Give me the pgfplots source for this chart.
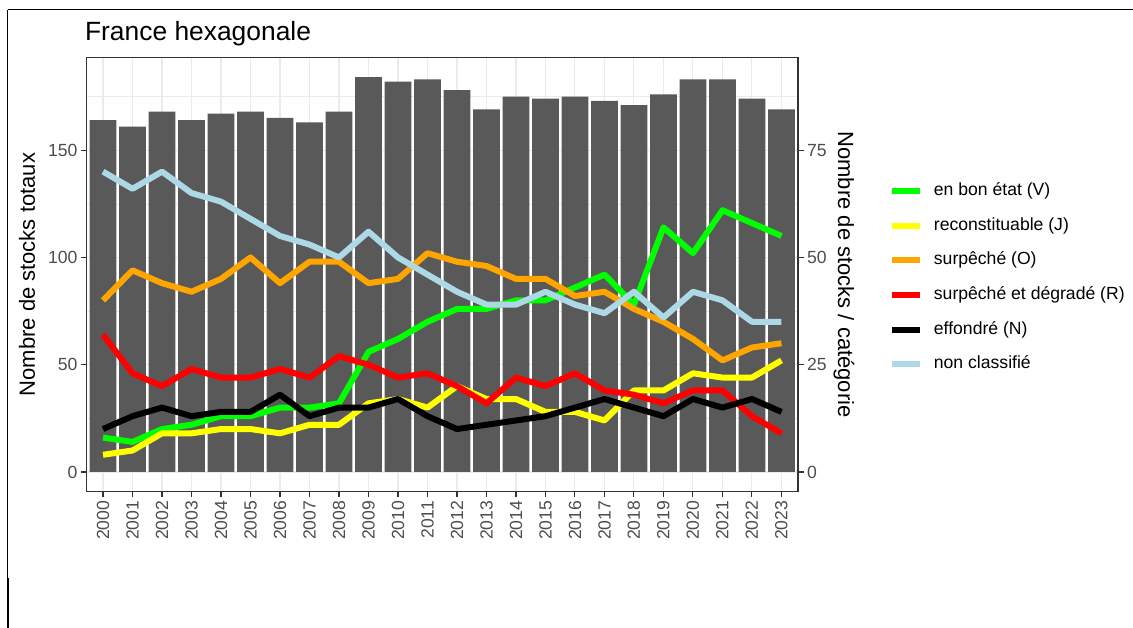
\documentclass[border=0pt]{standalone}
\usepackage{fontspec}
\setmainfont{Liberation Sans}
\usepackage{pgfplots}
\pgfplotsset{compat=1.18}
\usepackage{pgfplotstable}

\definecolor{barcol}{HTML}{595959}
\definecolor{gridcol}{HTML}{EBEBEB}
\definecolor{bordercol}{HTML}{333333}
\definecolor{tickcol}{HTML}{4D4D4D}
\definecolor{cV}{HTML}{00FF00}
\definecolor{cJ}{HTML}{FFFF00}
\definecolor{cO}{HTML}{FFA500}
\definecolor{cR}{HTML}{FF0000}
\definecolor{cN}{HTML}{000000}
\definecolor{cNC}{HTML}{ADD8E6}

\pgfplotstableread{
year total V J O R N NC
2000 164 8 4 40 32 10 70
2001 161 7 5 47 23 13 66
2002 168 10 9 44 20 15 70
2003 164 11 9 42 24 13 65
2004 167 13 10 45 22 14 63
2005 168 13 10 50 22 14 59
2006 165 15 9 44 24 18 55
2007 163 15 11 49 22 13 53
2008 168 16 11 49 27 15 50
2009 184 28 16 44 25 15 56
2010 182 31 17 45 22 17 50
2011 183 35 15 51 23 13 46
2012 178 38 20 49 20 10 42
2013 169 38 17 48 16 11 39
2014 175 40 17 45 22 12 39
2015 174 40 14 45 20 13 42
2016 175 43 14 41 23 15 39
2017 173 46 12 42 19 17 37
2018 171 39 19 38 18 15 42
2019 176 57 19 35 16 13 36
2020 183 51 23 31 19 17 42
2021 183 61 22 26 19 15 40
2022 174 58 22 29 13 17 35
2023 169 55 26 30 9 14 35
}\data

\pgfplotsset{
  panel/.style={
    scale only axis, width=711.5pt, height=434.2pt,
    at={(86.5pt,136.3pt)}, anchor=south west,
    xmin=1999.44, xmax=2023.56,
    tick align=outside, major tick length=5.5pt, minor tick length=0pt,
    tick style={bordercol, line width=1.1pt},
    ticklabel style={font=\fontsize{17.6}{20}\selectfont, text=tickcol},
    /pgf/number format/1000 sep={},
    /pgf/number format/assume math mode=true,
  }
}

\begin{document}
\begin{tikzpicture}[x=1pt,y=1pt]
\useasboundingbox (0,0) rectangle (1133,628);
\draw[line width=1pt] (7.5,618) -- (1133,618);
\draw[line width=1pt] (7.5,618) -- (7.5,50);
\draw[line width=2.2pt] (7.7,50) -- (7.7,0);

\begin{axis}[panel,
  ymin=-9.2, ymax=193.2,
  axis line style={bordercol, line width=1.1pt},
  xtick={2000,...,2023},
  ytick={0,50,100,150}, minor ytick={25,75,125,175},
  grid=both,
  major grid style={gridcol, line width=1.1pt},
  minor grid style={gridcol, line width=0.55pt},
  ytick pos=left, xtick pos=bottom,
  xticklabel style={rotate=90, anchor=east},
  ylabel={Nombre de stocks totaux},
  ylabel style={at={(axis description cs:-0.0836,0.5)}, anchor=center, font=\fontsize{22}{26}\selectfont},
  title={France hexagonale},
  title style={at={(axis description cs:0,1)}, anchor=base west, xshift=-5pt, yshift=10.5pt, font=\fontsize{26.4}{30}\selectfont},
]
\addplot[ybar, bar width=0.9, bar shift=0pt, fill=barcol, draw=none] table[x=year,y=total]{\data};
\end{axis}

\begin{axis}[panel,
  ymin=-4.6, ymax=96.6,
  axis y line*=right, axis x line=none,
  axis line style={draw=none},
  ytick={0,25,50,75},
  every axis y label/.style={at={(axis description cs:1.0647,0.5)}, anchor=center, rotate=-90, font=\fontsize{22}{26}\selectfont},
  ylabel={Nombre de stocks / catégorie},
  legend style={draw=none, fill=none, at={(axis description cs:1.1275,0.493)}, anchor=west,
    font=\fontsize{17.6}{20}\selectfont, inner sep=0pt, row sep=17.7pt, column sep=11pt,
    nodes={inner sep=0pt, text height=13pt, text depth=4pt}},
  legend cell align=left,
  legend image code/.code={\draw[#1, line width=6pt, line cap=butt] (0pt,0pt) -- (28pt,0pt);},
]
\addplot[cV, line width=6pt, line join=round] table[x=year,y=V]{\data};
\addlegendentry{en bon état (V)}
\addplot[cJ, line width=6pt, line join=round] table[x=year,y=J]{\data};
\addlegendentry{reconstituable (J)}
\addplot[cO, line width=6pt, line join=round] table[x=year,y=O]{\data};
\addlegendentry{surpêché (O)}
\addplot[cR, line width=6pt, line join=round] table[x=year,y=R]{\data};
\addlegendentry{surpêché et dégradé (R)}
\addplot[cN, line width=6pt, line join=round] table[x=year,y=N]{\data};
\addlegendentry{effondré (N)}
\addplot[cNC, line width=6pt, line join=round] table[x=year,y=NC]{\data};
\addlegendentry{non classifié}
\end{axis}
\end{tikzpicture}
\end{document}
